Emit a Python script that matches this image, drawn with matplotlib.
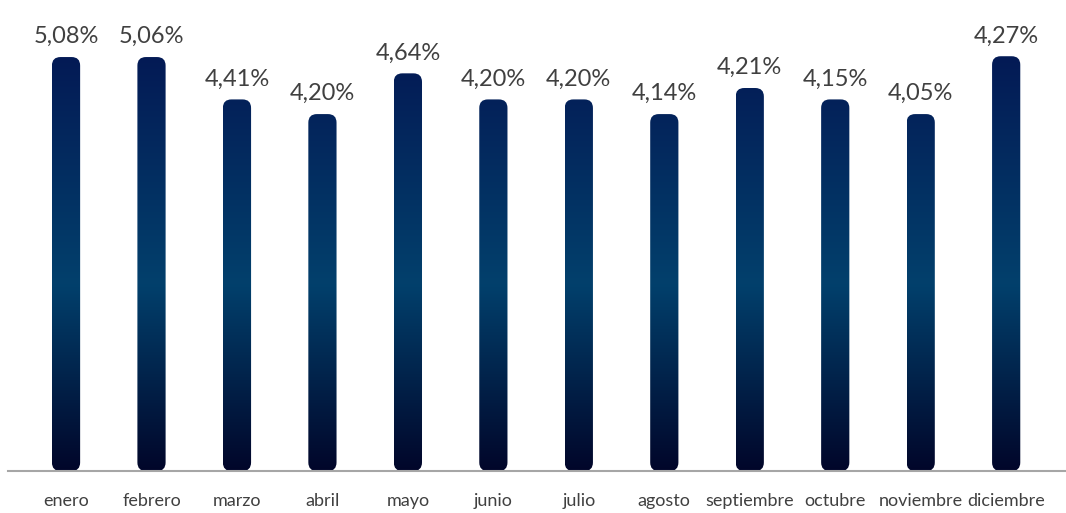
import numpy as np
import matplotlib.pyplot as plt
from matplotlib.patches import FancyBboxPatch
from matplotlib.colors import LinearSegmentedColormap

# datos
meses = ['enero', 'febrero', 'marzo', 'abril', 'mayo', 'junio', 'julio',
         'agosto', 'septiembre', 'octubre', 'noviembre', 'diciembre']
etiquetas = ['5,08%', '5,06%', '4,41%', '4,20%', '4,64%', '4,20%', '4,20%',
             '4,14%', '4,21%', '4,15%', '4,05%', '4,27%']
# altura de las barras tal como se dibujan en la imagen
alturas = [5.08, 5.08, 4.56, 4.38, 4.88, 4.56, 4.56, 4.38, 4.70, 4.56, 4.38, 5.09]

plt.rcParams['font.family'] = ['Lato', 'DejaVu Sans']

fig = plt.figure(figsize=(10.66, 5.13), dpi=100)
ax = fig.add_axes([8 / 1066, 42 / 513, 1058 / 1066, 471 / 513])

x = np.arange(len(meses))
ancho = 0.33
ax.set_xlim(-0.679, 11.70)
ax.set_ylim(0, 5.78)

# degradado vertical (oscuro abajo, azul en el medio, marino arriba)
cmap = LinearSegmentedColormap.from_list(
    'barras', [(0.0, '#01062a'), (0.45, '#02406c'), (1.0, '#041a55')])
grad = np.linspace(0, 1, 256).reshape(-1, 1)
ytop = max(alturas)

# relacion de aspecto para esquinas redondas
px_x = 1058 / (11.70 + 0.679)
px_y = 471 / 5.78
aspecto = px_x / px_y

for xi, h, lab in zip(x, alturas, etiquetas):
    caja = FancyBboxPatch((xi - ancho / 2, 0), ancho, h,
                          boxstyle='round,pad=0,rounding_size=0.1',
                          mutation_aspect=aspecto,
                          facecolor='none', edgecolor='none')
    ax.add_patch(caja)
    im = ax.imshow(grad, cmap=cmap, origin='lower', aspect='auto',
                   extent=(xi - ancho / 2, xi + ancho / 2, 0, ytop),
                   interpolation='bicubic')
    im.set_clip_path(caja)
    ax.text(xi, h + 0.12, lab, ha='center', va='bottom',
            fontsize=17, color='#404040')

ax.set_xticks(x)
ax.set_xticklabels(meses, fontsize=13, color='#404040')
ax.tick_params(axis='x', length=0, pad=16)
ax.set_yticks([])
for s in ['top', 'left', 'right']:
    ax.spines[s].set_visible(False)
ax.spines['bottom'].set_color('#a6a6a6')
ax.spines['bottom'].set_linewidth(1.5)
ax.set_aspect('auto')

fig.savefig('out.png', dpi=100)
